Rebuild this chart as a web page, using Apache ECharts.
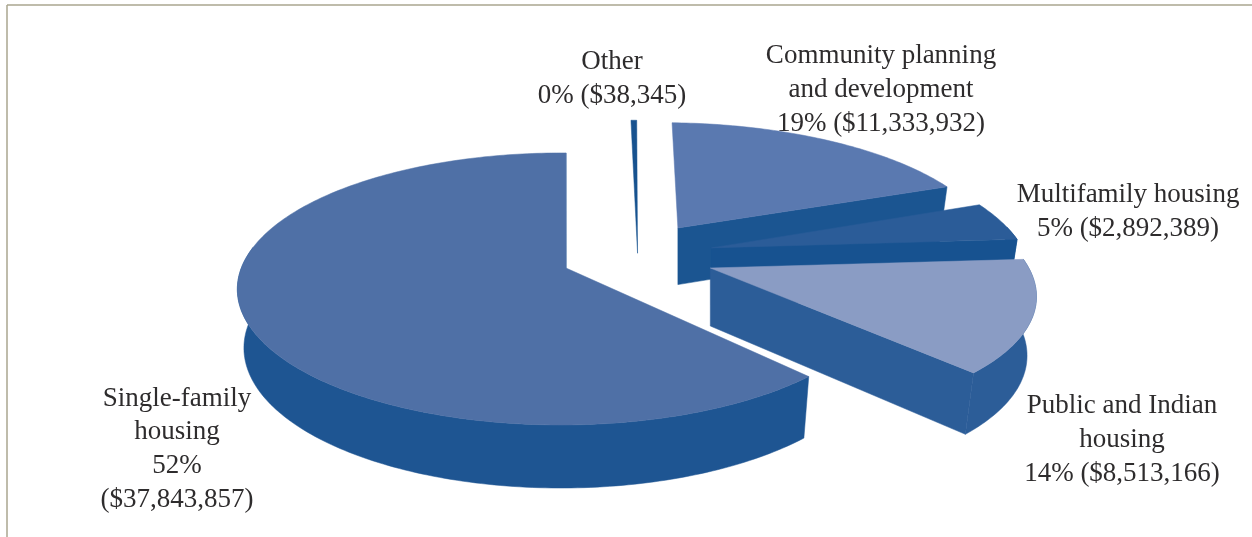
<!DOCTYPE html>
<html>
<head>
<meta charset="utf-8">
<style>html,body{margin:0;padding:0;background:#fff}#chart{width:1252px;height:537px}</style>
<script src="https://cdn.jsdelivr.net/npm/echarts@6/dist/echarts.min.js"></script>
</head>
<body>
<div id="chart"></div>
<script>
// Funding by program, clockwise from twelve o'clock
const categories = ['Other', 'Community planning\nand development', 'Multifamily housing', 'Public and Indian\nhousing', 'Single-family\nhousing'];
const amounts = [38345, 11333932, 2892389, 8513166, 37843857];
const shareLabels = ['0% ($38,345)', '19% ($11,333,932)', '5% ($2,892,389)', '14% ($8,513,166)', '52%\n($37,843,857)'];

// Slice appearance, same order as the categories
const topColors = ['#17528f', '#5a79b0', '#2b5c98', '#8a9cc4', '#4f70a6'];
const wallColors = ['#17528f', '#1b5591', '#175290', '#2c5d98', '#1e5592'];
const explodeX = [0.224, 0.361, 0.458, 0.444, 0];
const explodeZ = [-0.113, -0.316, -0.155, 0, 0];
const rimOffsetX = [0, 0, 0, 0, -0.014];
const radiusX = [1.23, 1, 0.98, 0.98, 0.985];
const radiusZ = [1.23, 1, 1, 0.97, 1];
const wallScale = [0, 1, 1, 1, 1];
const labelX = [612, 881, 1128, 1122, 177];
const labelY = [79, 90, 212, 440, 449];
const drawOrder = [0, 1, 2, 3, 4];

// Projection of the tilted pie plane onto the page
const view = { cx: 566, cy: 268, r: 325, a: 132.8, k: 0.154, depth: 58, baseShrink: 0.98, startDeg: 0.8, minSweepDeg: 1 };

// Sweep of each slice; very small shares are held at a minimum angle, as pie minAngle does
const total = amounts.reduce((s, v) => s + v, 0);
const rawSweeps = amounts.map(v => v / total * 360);
const reserved = rawSweeps.map(s => Math.max(s, view.minSweepDeg));
const fit = (360 - reserved.filter((s, i) => rawSweeps[i] < view.minSweepDeg).reduce((a, b) => a + b, 0)) /
  rawSweeps.filter(s => s >= view.minSweepDeg).reduce((a, b) => a + b, 0);
const sweeps = rawSweeps.map(s => s < view.minSweepDeg ? view.minSweepDeg : s * fit);
const starts = [];
sweeps.reduce((acc, s, i) => { starts[i] = acc; return acc + s; }, view.startDeg);

function project(X, Z) {
  const den = 1 - view.k * Z;
  return [view.cx + view.r * X / den, view.cy + view.a * Z / den, den];
}
function rimPoint(i, deg) {
  const t = deg * Math.PI / 180;
  return project(explodeX[i] + rimOffsetX[i] + radiusX[i] * Math.sin(t), explodeZ[i] - radiusZ[i] * Math.cos(t));
}
function wallDrop(p, i) {
  return wallScale[i] * view.depth / Math.sqrt(p[2]);
}
function lowerRim(p, i) {
  return [view.cx + (p[0] - view.cx) * view.baseShrink, p[1] + wallDrop(p, i)];
}
function polygon(points, fill, z2) {
  return { type: 'polygon', z2: z2, shape: { points: points.map(p => [p[0], p[1]]) }, style: { fill: fill, stroke: fill, lineWidth: 0.5 } };
}

function renderSlice(params, api) {
  const i = api.value(0);
  const a0 = api.value(1), a1 = api.value(2);
  const rim = [], front = [];
  const steps = Math.max(2, Math.ceil(a1 - a0));
  for (let n = 0; n <= steps; n++) {
    const deg = a0 + (a1 - a0) * n / steps;
    const p = rimPoint(i, deg);
    rim.push(p);
    // only the part of the outer wall facing the viewer is drawn
    if (deg >= 80 && deg <= 280) front.push(p);
  }
  const apex = project(explodeX[i], explodeZ[i]);
  const children = [];
  if (wallScale[i] > 0) {
    const apexLow = [apex[0], apex[1] + wallDrop(apex, i)];
    const last = rim[steps];
    if (front.length > 1) {
      children.push(polygon(front.concat(front.map(p => lowerRim(p, i)).reverse()), wallColors[i], 1));
    }
    // cut face along the clockwise edge of the slice
    children.push(polygon([apex, last, lowerRim(last, i), apexLow], wallColors[i], 1));
  }
  children.push(polygon([apex].concat(rim), topColors[i], 2));
  children.push({
    type: 'text', z2: 100,
    style: {
      text: categories[i] + '\n' + shareLabels[i],
      x: labelX[i], y: labelY[i], align: 'center', verticalAlign: 'middle',
      fill: '#2e2c2d', font: '27px "Liberation Serif"', lineHeight: 33.7
    }
  });
  return { type: 'group', children: children };
}

const chart = echarts.init(document.getElementById('chart'), null, { renderer: 'canvas' });
chart.setOption({
  animation: false,
  backgroundColor: '#ffffff',
  graphic: [
    { type: 'line', silent: true, shape: { x1: 7, y1: 5, x2: 1252, y2: 5 }, style: { stroke: '#aaa68f', lineWidth: 1.5 } },
    { type: 'line', silent: true, shape: { x1: 7, y1: 5, x2: 7, y2: 537 }, style: { stroke: '#aaa68f', lineWidth: 1.5 } }
  ],
  series: [{
    type: 'custom',
    coordinateSystem: 'none',
    silent: true,
    renderItem: renderSlice,
    encode: { value: [0, 1, 2] },
    data: drawOrder.map(i => [i, starts[i], starts[i] + sweeps[i]])
  }]
});
</script>
</body>
</html>
